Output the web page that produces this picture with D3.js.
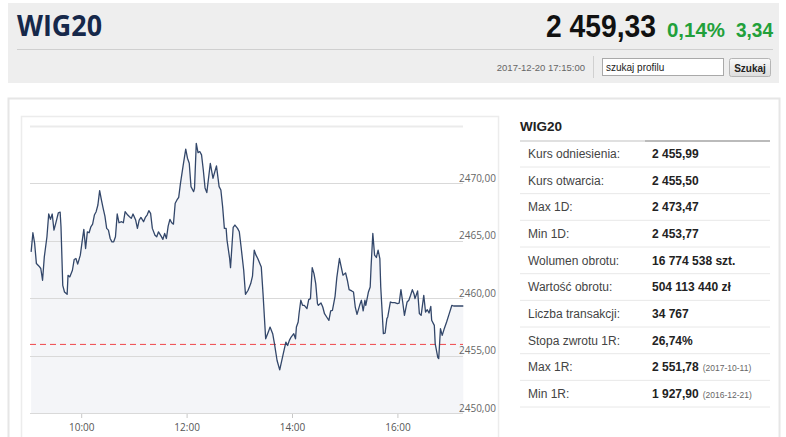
<!DOCTYPE html>
<html lang="pl">
<head>
<meta charset="utf-8">
<title>WIG20</title>
<script src="https://d3js.org/d3.v7.min.js"></script>
<style>
  html, body { margin: 0; padding: 0; background: #fff; }
  svg { display: block; }
</style>
</head>
<body>
<div id="canvas"></div>
<script>
// intraday quotes
const times = [
  "9:03","9:05","9:07","9:09","9:12","9:14","9:16","9:18","9:21","9:23","9:25","9:27","9:29","9:31","9:34","9:36","9:37","9:39","9:41","9:44",
  "9:45","9:47","9:50","9:52","9:54","9:56","9:59","10:01","10:03","10:05","10:07","10:09","10:11","10:13","10:15","10:17","10:19","10:21","10:23","10:25",
  "10:27","10:29","10:31","10:33","10:35","10:37","10:39","10:41","10:43","10:46","10:48","10:50","10:53","10:55","10:57","10:59","11:02","11:04","11:06","11:08",
  "11:11","11:13","11:15","11:17","11:19","11:21","11:24","11:26","11:28","11:31","11:33","11:35","11:37","11:39","11:41","11:43","11:45","11:47","11:49","11:51",
  "11:53","11:56","11:59","12:01","12:03","12:05","12:08","12:09","12:11","12:13","12:15","12:17","12:19","12:21","12:23","12:27","12:30","12:34","12:37","12:39",
  "12:41","12:43","12:45","12:46","12:49","12:50","12:53","12:55","12:58","13:00","13:02","13:05","13:07","13:10","13:13","13:15","13:17","13:19","13:21","13:25",
  "13:27","13:30","13:33","13:35","13:38","13:40","13:43","13:46","13:50","13:53","13:55","13:57","13:59","14:02","14:04","14:05","14:07","14:08","14:10","14:12",
  "14:14","14:17","14:19","14:21","14:23","14:25","14:27","14:29","14:30","14:33","14:35","14:37","14:40","14:42","14:44","14:46","14:49","14:51","14:54","14:56",
  "14:58","15:01","15:03","15:05","15:08","15:10","15:12","15:14","15:17","15:19","15:21","15:23","15:24","15:27","15:29","15:30","15:32","15:34","15:36","15:38",
  "15:40","15:41","15:44","15:46","15:48","15:49","15:52","15:54","15:57","16:00","16:02","16:04","16:06","16:08","16:11","16:13","16:15","16:17","16:19","16:20",
  "16:23","16:25","16:27","16:30","16:32","16:34","16:36","16:38","16:39","16:42","16:43","16:46","16:47","16:49","16:51","16:53","16:56","16:59","17:02","17:04",
  "17:15"
];
const prices = [
  2464.04,2465.70,2464.77,2463.02,2462.79,2462.59,2461.57,2463.60,2465.35,2467.33,2466.86,2467.33,2465.93,2466.51,2467.44,2467.50,2466.22,2461.13,2460.55,2460.35,
  2462.00,2461.86,2462.44,2463.37,2463.46,2462.97,2463.75,2464.91,2465.99,2464.33,2465.78,2465.70,2466.22,2466.45,2467.24,2467.53,2468.11,2469.36,2468.55,2467.82,
  2467.15,2466.08,2465.93,2465.20,2464.91,2464.91,2465.35,2467.33,2466.57,2466.66,2466.57,2467.53,2467.24,2467.09,2466.95,2467.33,2466.80,2466.08,2466.80,2467.03,
  2466.66,2467.03,2467.24,2467.62,2467.38,2466.08,2465.49,2465.35,2465.78,2465.41,2465.12,2465.64,2465.20,2466.28,2466.86,2466.57,2466.45,2468.26,2468.55,2468.78,
  2470.00,2471.51,2472.97,2472.18,2471.74,2469.71,2469.27,2469.56,2473.47,2472.67,2472.76,2472.47,2471.16,2469.60,2469.19,2471.74,2470.44,2471.51,2469.71,2469.42,
  2467.97,2466.08,2466.08,2465.06,2463.46,2462.67,2466.16,2466.37,2466.08,2465.78,2464.48,2462.44,2460.35,2460.70,2461.28,2461.92,2464.19,2463.75,2463.46,2462.73,
  2460.41,2456.48,2457.06,2457.50,2456.92,2456.05,2454.59,2453.77,2455.17,2456.19,2455.90,2456.34,2456.63,2456.92,2456.48,2457.50,2457.94,2458.66,2459.83,2459.39,
  2459.39,2459.10,2459.88,2459.97,2462.67,2462.15,2461.28,2459.53,2459.39,2459.59,2459.24,2458.66,2458.31,2458.08,2458.90,2458.95,2460.17,2461.80,2463.46,2462.73,
  2462.01,2462.21,2461.57,2460.76,2460.64,2460.55,2459.24,2458.60,2459.39,2459.83,2458.90,2459.83,2459.39,2460.55,2460.99,2462.73,2465.64,2463.75,2463.55,2464.19,
  2463.46,2461.00,2456.93,2456.98,2458.23,2458.38,2459.68,2459.62,2459.62,2459.54,2459.59,2460.75,2459.68,2458.52,2459.68,2459.83,2460.26,2460.75,2460.35,2459.97,
  2460.64,2458.67,2458.52,2460.26,2458.81,2459.01,2458.72,2459.30,2458.09,2457.65,2456.06,2454.84,2454.75,2457.36,2456.78,2457.28,2457.94,2458.67,2459.39,2459.33,
  2459.33
];
const referencePrice = 2455.99;
const gridValues = [2450, 2455, 2460, 2465, 2470, 2475];
const labelValues = [2450, 2455, 2460, 2465, 2470];
const hourTicks = ["10:00", "12:00", "14:00", "16:00"];

const statLabels = ["Kurs odniesienia:", "Kurs otwarcia:", "Max 1D:", "Min 1D:", "Wolumen obrotu:",
  "Wartość obrotu:", "Liczba transakcji:", "Stopa zwrotu 1R:", "Max 1R:", "Min 1R:"];
const statValues = ["2 455,99", "2 455,50", "2 473,47", "2 453,77", "16 774 538 szt.",
  "504 113 440 zł", "34 767", "26,74%", "2 551,78", "1 927,90"];
const statNotes = ["", "", "", "", "", "", "", "", "(2017-10-11)", "(2016-12-21)"];

const W = 786, H = 437;
const parse = d3.timeParse("%H:%M");
const data = times.map((t, i) => ({ t: parse(t), v: prices[i] }));

const svg = d3.select("#canvas").append("svg")
    .attr("width", W)
    .attr("height", H)
    .attr("font-family", "'Liberation Sans', Arial, sans-serif");

// ---- header ----
svg.append("rect").attr("x", 8).attr("y", 3).attr("width", 771).attr("height", 80).attr("fill", "#eeeeee");
svg.append("text").attr("x", 17).attr("y", 36)
    .attr("font-family", "'Open Sans', sans-serif").attr("font-size", 28).attr("font-weight", 700)
    .attr("fill", "#16284a").attr("textLength", 85).attr("lengthAdjust", "spacingAndGlyphs")
    .text("WIG20");
svg.append("line").attr("x1", 17).attr("x2", 773).attr("y1", 49.5).attr("y2", 49.5)
    .attr("stroke", "#cfcfcf");
svg.append("text").attr("x", 546).attr("y", 37)
    .attr("font-size", 31).attr("font-weight", 700).attr("fill", "#111")
    .attr("textLength", 110).attr("lengthAdjust", "spacingAndGlyphs")
    .text("2 459,33");
svg.append("text").attr("x", 667).attr("y", 37)
    .attr("font-size", 20).attr("font-weight", 700).attr("fill", "#22a03a")
    .attr("textLength", 58).attr("lengthAdjust", "spacingAndGlyphs")
    .text("0,14%");
svg.append("text").attr("x", 736).attr("y", 37)
    .attr("font-size", 20).attr("font-weight", 700).attr("fill", "#22a03a")
    .attr("textLength", 37).attr("lengthAdjust", "spacingAndGlyphs")
    .text("3,34");

svg.append("text").attr("x", 585).attr("y", 70.5).attr("text-anchor", "end")
    .attr("font-size", 9.5).attr("fill", "#666").text("2017-12-20 17:15:00");
svg.append("line").attr("x1", 593.5).attr("x2", 593.5).attr("y1", 56).attr("y2", 78).attr("stroke", "#d0d0d0");
svg.append("rect").attr("x", 602.5).attr("y", 58.5).attr("width", 121).attr("height", 17)
    .attr("fill", "#fff").attr("stroke", "#a9a9a9");
svg.append("text").attr("x", 606).attr("y", 70.5).attr("font-size", 10).attr("fill", "#222").text("szukaj profilu");

const grad = svg.append("defs").append("linearGradient").attr("id", "btn").attr("x1", 0).attr("x2", 0).attr("y1", 0).attr("y2", 1);
grad.append("stop").attr("offset", 0).attr("stop-color", "#fafafa");
grad.append("stop").attr("offset", 1).attr("stop-color", "#dcdcdc");
svg.append("rect").attr("x", 729.5).attr("y", 58.5).attr("width", 41).attr("height", 18).attr("rx", 2)
    .attr("fill", "url(#btn)").attr("stroke", "#b5b5b5");
svg.append("text").attr("x", 750).attr("y", 71.5).attr("text-anchor", "middle")
    .attr("font-size", 10).attr("font-weight", 700).attr("fill", "#222").text("Szukaj");

// ---- main panel ----
svg.append("rect").attr("x", 8.5).attr("y", 98.5).attr("width", 771).attr("height", 360)
    .attr("fill", "#fff").attr("stroke", "#e6e6e6").attr("stroke-width", 2);
svg.append("rect").attr("x", 21.5).attr("y", 116.5).attr("width", 477).attr("height", 340)
    .attr("fill", "#fff").attr("stroke", "#ececec").attr("stroke-width", 1.5);

// ---- chart ----
const x = d3.scaleTime().domain([parse("9:00"), parse("17:15")]).range([28.5, 463.3]);
const y = d3.scaleLinear().domain([2450, 2475]).range([413.3, 125.8]);
const gridX0 = 30, gridX1 = 463;

svg.append("path").datum(data)
    .attr("fill", "#f4f5f8")
    .attr("d", d3.area().x(d => x(d.t)).y0(y(2450)).y1(d => y(d.v)));

svg.append("g").selectAll("line").data(gridValues).join("line")
    .attr("x1", gridX0).attr("x2", gridX1)
    .attr("y1", d => Math.round(y(d)) + 0.5).attr("y2", d => Math.round(y(d)) + 0.5)
    .attr("stroke", d => d === 2475 ? "#ebebeb" : "#d9d9d9")
    .attr("stroke-width", d => d === 2475 ? 2 : 1);

svg.append("line")
    .attr("x1", gridX0).attr("x2", gridX1)
    .attr("y1", y(referencePrice)).attr("y2", y(referencePrice))
    .attr("stroke", "#f0474a").attr("stroke-width", 1).attr("stroke-dasharray", "6,4");

svg.append("path").datum(data)
    .attr("fill", "none")
    .attr("stroke", "#33476a")
    .attr("stroke-width", 1.3)
    .attr("stroke-linejoin", "round")
    .attr("d", d3.line().x(d => x(d.t)).y(d => y(d.v)));

svg.append("g").selectAll("text").data(labelValues).join("text")
    .attr("x", 459).attr("y", d => y(d) - 1.5)
    .attr("font-family", "'Open Sans', sans-serif").attr("font-size", 10).attr("fill", "#666")
    .text(d => d3.format(".2f")(d).replace(".", ","));

const xAxis = svg.append("g")
    .attr("transform", `translate(0,${Math.round(y(2450)) + 1})`)
    .call(d3.axisBottom(x).tickValues(hourTicks.map(parse)).tickFormat(d3.timeFormat("%H:%M")).tickSize(4).tickPadding(6));
xAxis.select(".domain").remove();
xAxis.selectAll(".tick line").attr("stroke", "#c8c8c8");
xAxis.selectAll(".tick text")
    .attr("font-family", "'Open Sans', sans-serif").attr("font-size", 10).attr("fill", "#555");

// ---- table ----
svg.append("text").attr("x", 520).attr("y", 131)
    .attr("font-size", 13.5).attr("font-weight", 700).attr("fill", "#222").text("WIG20");
svg.append("line").attr("x1", 520).attr("x2", 645).attr("y1", 141).attr("y2", 141)
    .attr("stroke", "#d6d6d6").attr("stroke-width", 1.5);
svg.append("line").attr("x1", 645).attr("x2", 770).attr("y1", 141).attr("y2", 141)
    .attr("stroke", "#a5a5a5").attr("stroke-width", 1.5);

const rowH = 26.67, row0 = 153.5;
const rows = svg.append("g").selectAll("g").data(statLabels).join("g")
    .attr("transform", (d, i) => `translate(0,${row0 + i * rowH})`);
rows.append("line").attr("x1", 520).attr("x2", 770).attr("y1", 13.5).attr("y2", 13.5)
    .attr("stroke", "#e8e8e8");
rows.append("text").attr("x", 528).attr("y", 4.5)
    .attr("font-size", 12).attr("fill", "#444").text(d => d);
const vals = rows.append("text").attr("x", 652).attr("y", 4.5)
    .attr("font-size", 12).attr("font-weight", 700).attr("fill", "#222").text((d, i) => statValues[i]);
rows.append("text")
    .attr("x", (d, i, n) => 652 + vals.nodes()[i].getComputedTextLength() + 4)
    .attr("y", 4.5)
    .attr("font-size", 8.5).attr("fill", "#666").text((d, i) => statNotes[i]);
</script>
</body>
</html>
